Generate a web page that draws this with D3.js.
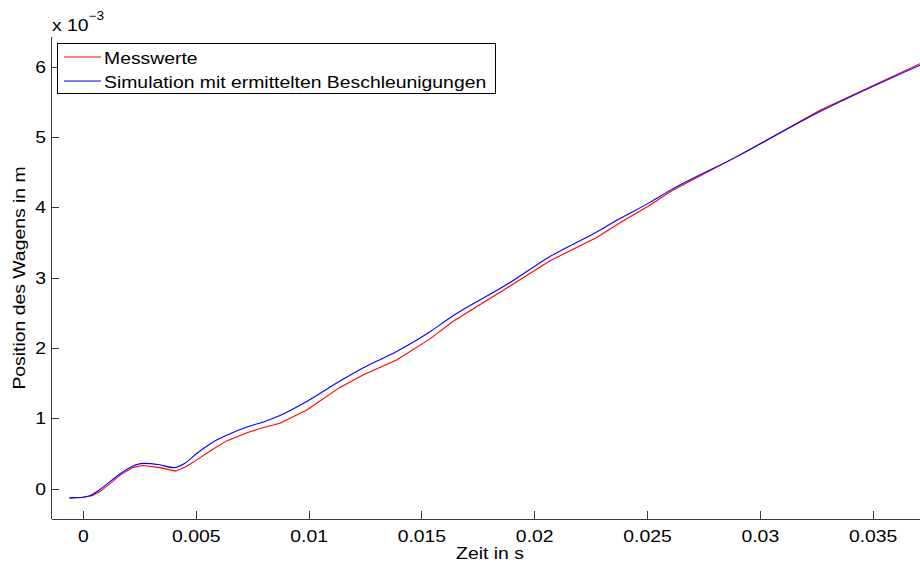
<!DOCTYPE html>
<html lang="de">
  <head>
    <title>Position des Wagens</title>
    <meta charset="utf-8" />
    <script src="https://d3js.org/d3.v7.min.js"></script>
    <style>
      body { margin: 0; background: #fff; }
      svg text { font-family: "Liberation Sans", Arial, Helvetica, sans-serif; fill: #000; }
      .axis path, .axis line { stroke: #3a3a3a; stroke-width: 1; shape-rendering: crispEdges; }
      .axis text { font-size: 17px; }
    </style>
  </head>
  <body>
    <svg id="PlotVis" width="920" height="563"></svg>

    <script>
      // Messwerte (rot): Zeit in s, Position in 1e-3 m
      const tMess = [-0.0006, 0.0000, 0.0004, 0.0008, 0.00164, 0.0022, 0.00266, 0.0034, 0.0041, 0.0046,
                     0.00504, 0.0057, 0.00637, 0.0073, 0.0080, 0.00873, 0.00992, 0.01139, 0.01243, 0.0139,
                     0.01538, 0.01641, 0.01893, 0.0207, 0.02277, 0.0238, 0.02513, 0.02602, 0.02898, 0.03267, 0.0371];
      const posMess = [-0.13, -0.12, -0.10, -0.03, 0.19, 0.30, 0.33, 0.30, 0.25, 0.32,
                       0.41, 0.55, 0.68, 0.80, 0.87, 0.93, 1.12, 1.44, 1.62, 1.83,
                       2.13, 2.38, 2.88, 3.24, 3.57, 3.78, 4.03, 4.22, 4.72, 5.38, 6.04];

      // Simulation mit ermittelten Beschleunigungen (blau)
      const tSim = [-0.0006, 0.0000, 0.0003, 0.00075, 0.00164, 0.0022, 0.00266, 0.0034, 0.0040, 0.0045,
                    0.00504, 0.0057, 0.00637, 0.0073, 0.0080, 0.00873, 0.00992, 0.01139, 0.01243, 0.0139,
                    0.01538, 0.01627, 0.01893, 0.0207, 0.02277, 0.0238, 0.02513, 0.02602, 0.02898, 0.03267, 0.0371];
      const posSim = [-0.13, -0.12, -0.10, -0.01, 0.21, 0.32, 0.36, 0.34, 0.30, 0.36,
                      0.50, 0.65, 0.76, 0.88, 0.95, 1.04, 1.24, 1.53, 1.72, 1.95,
                      2.23, 2.43, 2.93, 3.30, 3.65, 3.84, 4.07, 4.24, 4.72, 5.36, 6.02];

      const xTicks = [0, 0.005, 0.01, 0.015, 0.02, 0.025, 0.03, 0.035];
      const yTicks = [0, 1, 2, 3, 4, 5, 6];
      const seriesNames = ["Messwerte", "Simulation mit ermittelten Beschleunigungen"];
      const seriesColors = ["#ff0000", "#0000ff"];

      const svg = d3.select("svg#PlotVis");
      const margin = {top: 37, right: 0, bottom: 44, left: 51};
      const width = +svg.attr("width");
      const height = +svg.attr("height");
      const plotWidth = width - margin.left - margin.right;
      const plotHeight = height - margin.top - margin.bottom;
      const sx = 1.14; // text in the original is wider than Liberation Sans

      const xScale = d3.scaleLinear().domain([-0.001418, 0.0371]).range([0, plotWidth]);
      const yScale = d3.scaleLinear().domain([-0.43, 6.42]).range([plotHeight, 0]);

      const plot = svg.append("g").attr("transform", "translate(" + margin.left + "," + margin.top + ")");

      svg.append("defs").append("clipPath").attr("id", "clip")
        .append("rect").attr("width", plotWidth).attr("height", plotHeight);

      // ticks point inward like matlab
      let bottomAxis = d3.axisBottom(xScale).tickValues(xTicks).tickSize(-8).tickSizeOuter(0).tickPadding(11)
        .tickFormat(d => String(+d.toFixed(3)));
      let leftAxis = d3.axisLeft(yScale).tickValues(yTicks).tickSize(-8).tickSizeOuter(0).tickPadding(5)
        .tickFormat(d => String(d));

      let gx = plot.append("g").attr("class", "x axis")
        .attr("transform", "translate(0," + plotHeight + ")")
        .call(bottomAxis);
      gx.select(".domain").attr("d", "M0.5,0.5H" + plotWidth);

      let gy = plot.append("g").attr("class", "y axis").call(leftAxis);
      gy.select(".domain").attr("d", "M0.5,0V" + plotHeight);

      // widen the tick labels
      plot.selectAll(".axis .tick text")
        .attr("x", function() { return (+d3.select(this).attr("x") || 0) / sx; })
        .attr("transform", "scale(" + sx + ",1)");

      // exponent label
      let expo = svg.append("text")
        .attr("transform", "translate(52,31) scale(" + sx + ",1)")
        .style("font-size", "17px");
      expo.append("tspan").text("x 10");
      expo.append("tspan").attr("dy", -11).style("font-size", "12px").text("\u22123");

      // axis labels
      svg.append("text")
        .attr("transform", "translate(490,559) scale(" + sx + ",1)")
        .style("text-anchor", "middle").style("font-size", "17px")
        .text("Zeit in s");
      svg.append("text")
        .attr("transform", "translate(25," + (margin.top + plotHeight / 2) + ") rotate(-90) scale(" + sx + ",1)")
        .style("text-anchor", "middle").style("font-size", "17px")
        .text("Position des Wagens in m");

      const series = [
        d3.zip(tMess, posMess),
        d3.zip(tSim, posSim)
      ];

      const lineMess = d3.line().x(d => xScale(d[0])).y(d => yScale(d[1])).curve(d3.curveLinear);
      const lineSim = d3.line().x(d => xScale(d[0])).y(d => yScale(d[1])).curve(d3.curveMonotoneX);

      let lines = plot.append("g").attr("clip-path", "url(#clip)");
      lines.append("path").datum(series[0])
        .attr("d", lineMess).attr("fill", "none")
        .attr("stroke", seriesColors[0]).attr("stroke-width", 1.1);
      lines.append("path").datum(series[1])
        .attr("d", lineSim).attr("fill", "none")
        .attr("stroke", seriesColors[1]).attr("stroke-width", 1.1);

      // legend
      let legend = svg.append("g").attr("id", "legend");
      legend.append("rect")
        .attr("x", 57.5).attr("y", 43.5).attr("width", 438).attr("height", 50)
        .attr("fill", "#fff").attr("stroke", "#000").attr("stroke-width", 1);
      seriesNames.forEach((name, i) => {
        let y = 57 + i * 24;
        legend.append("line")
          .attr("x1", 64).attr("x2", 101).attr("y1", y).attr("y2", y)
          .attr("stroke", seriesColors[i]).attr("stroke-width", 1.1);
        legend.append("text")
          .attr("transform", "translate(104," + (y + 6.5) + ") scale(" + sx + ",1)")
          .style("font-size", "17px")
          .text(name);
      });
    </script>
  </body>
</html>
